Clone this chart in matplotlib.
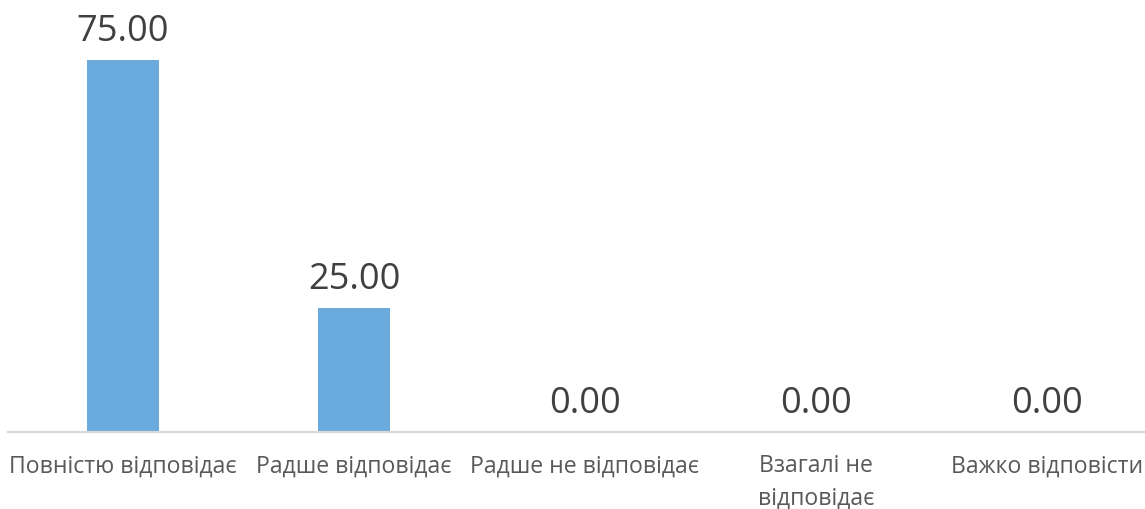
import matplotlib.pyplot as plt

categories = ['Повністю відповідає', 'Радше відповідає', 'Радше не відповідає',
              'Взагалі не\nвідповідає', 'Важко відповісти']
values = [75.0, 25.0, 0.0, 0.0, 0.0]

plt.rcParams['font.family'] = ['Open Sans', 'DejaVu Sans']

fig = plt.figure(figsize=(11.45, 5.09), dpi=100)
# axes placed in pixel terms: baseline at y=432, left edge x=8
ax = fig.add_axes([8 / 1145, (509 - 432) / 509, (1145 - 8) / 1145, (432 - 20) / 509])

x = range(len(categories))
bars = ax.bar(x, values, width=72 / 231, color='#6aaadc', zorder=2)

for b, v in zip(bars, values):
    ax.annotate(f'{v:.2f}', (b.get_x() + b.get_width() / 2, v),
                xytext=(0, 7), textcoords='offset points',
                ha='center', va='bottom', fontsize=26, color='#404040')

ax.set_xlim(-0.498, 4.424)
ax.set_ylim(0, 412 / 4.96)
ax.set_xticks(list(x))
ax.set_xticklabels(categories, fontsize=16.6, color='#595959', linespacing=1.45)
ax.tick_params(axis='x', length=0, pad=16)
ax.set_yticks([])
for s in ['top', 'right', 'left']:
    ax.spines[s].set_visible(False)
ax.spines['bottom'].set_color('#d9d9d9')
ax.spines['bottom'].set_linewidth(1.5)
ax.spines['bottom'].set_clip_on(False)

fig.savefig('out.png', dpi=100)
